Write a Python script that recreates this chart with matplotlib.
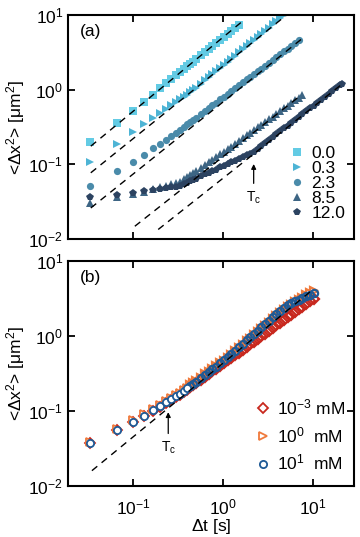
import numpy as np
import matplotlib
matplotlib.use("Agg")
import matplotlib.pyplot as plt

plt.rcParams['font.family'] = ['Liberation Sans', 'DejaVu Sans']
plt.rcParams['mathtext.fontset'] = 'custom'
plt.rcParams['mathtext.rm'] = 'Liberation Sans'
plt.rcParams['mathtext.it'] = 'Liberation Sans'

# lag times in frames (30 fps)
dt = 1.0 / 30.0
lags = [1, 2, 3, 4, 5, 6, 7, 8, 9, 10, 11, 12, 13, 14, 15, 17, 19, 21, 23, 25,
        28, 31, 34, 37, 41, 45, 50, 55, 60, 66, 73, 80, 88, 97, 107, 118, 130,
        143, 157, 173, 190, 209, 230, 253, 278, 306, 337, 371, 408, 449, 494,
        543, 597, 632]

# panel (a): MSD for different concentrations
labels_a = ['0.0', '0.3', '2.3', '8.5', '12.0']
markers_a = ['s', '>', 'o', '^', 'p']
colors_a = ['#63CBE4', '#4DB4D5', '#4A8BAA', '#3D6584', '#2C4361']
msd_00 = [0.20, 0.36, 0.52, 0.68, 0.86, 1.04, 1.21, 1.38, 1.55, 1.72, 1.89,
          2.05, 2.22, 2.38, 2.55, 2.88, 3.2, 3.52, 3.85, 4.17, 4.65, 5.12,
          5.6, 6.08, 6.7, 7.3]
msd_03 = [0.108, 0.19, 0.27, 0.345, 0.415, 0.485, 0.55, 0.615, 0.68, 0.745,
          0.80, 0.86, 0.93, 1.0, 1.06, 1.2, 1.34, 1.48, 1.62, 1.76, 1.97, 2.17,
          2.38, 2.6, 2.87, 3.15, 3.5, 3.85, 4.2, 4.62, 5.1, 5.6, 6.15, 6.8,
          7.5, 8.25, 9.1, 10.0, 11.0]
msd_23 = [0.052, 0.081, 0.107, 0.135, 0.163, 0.19, 0.214, 0.24, 0.265, 0.29,
          0.316, 0.342, 0.368, 0.394, 0.419, 0.47, 0.52, 0.57, 0.619, 0.667,
          0.739, 0.81, 0.884, 0.955, 1.05, 1.14, 1.26, 1.37, 1.48, 1.61, 1.77,
          1.92, 2.1, 2.29, 2.51, 2.74, 2.99, 3.27, 3.56, 3.88, 4.23, 4.6]
msd_85 = [0.030, 0.036, 0.040, 0.043, 0.046, 0.049, 0.052, 0.054, 0.056, 0.058,
          0.0628, 0.0675, 0.0721, 0.0767, 0.0812, 0.090, 0.0988, 0.107, 0.116,
          0.124, 0.136, 0.148, 0.161, 0.173, 0.189, 0.205, 0.225, 0.244, 0.263,
          0.286, 0.312, 0.338, 0.367, 0.40, 0.435, 0.474, 0.516, 0.56, 0.608,
          0.661, 0.717, 0.78, 0.847]
msd_120 = [0.036, 0.039, 0.041, 0.0435, 0.0455, 0.047, 0.0482, 0.0492, 0.050,
           0.051, 0.0538, 0.0565, 0.0591, 0.0616, 0.064, 0.0687, 0.0731,
           0.0773, 0.0813, 0.0852, 0.0908, 0.0961, 0.101, 0.106, 0.112, 0.118,
           0.126, 0.132, 0.139, 0.147, 0.161, 0.176, 0.192, 0.210, 0.230,
           0.252, 0.276, 0.302, 0.329, 0.36, 0.393, 0.429, 0.469, 0.513, 0.56,
           0.612, 0.669, 0.732, 0.80, 0.874, 0.956, 1.044, 1.14, 1.20]
series_a = [msd_00, msd_03, msd_23, msd_85, msd_120]

# dashed guides (t0, msd0, t1, msd1)
guides_a = [(0.034, 0.175, 1.6, 8.0),
            (0.034, 0.077, 5.1, 10.0),
            (0.034, 0.026, 7.5, 4.77),
            (0.105, 0.0148, 7.5, 0.857),
            (0.191, 0.0134, 20.8, 1.17)]

# panel (b): salt concentrations
labels_b = ['10$^{-3}$ mM', '10$^{0}$  mM', '10$^{1}$  mM']
markers_b = ['D', '>', 'o']
colors_b = ['#C8281E', '#F07A3C', '#1F5A96']
msd_b3 = [0.038, 0.056, 0.072, 0.086, 0.10, 0.114, 0.127, 0.14, 0.152, 0.164,
          0.178, 0.192, 0.206, 0.219, 0.233, 0.259, 0.286, 0.312, 0.337, 0.362,
          0.40, 0.436, 0.473, 0.509, 0.556, 0.602, 0.66, 0.717, 0.773, 0.839,
          0.915, 0.991, 1.076, 1.171, 1.274, 1.387, 1.508, 1.638, 1.776, 1.93,
          2.094, 2.273, 2.47, 2.68, 2.91, 3.16]
msd_b0 = [0.039, 0.058, 0.075, 0.09, 0.105, 0.12, 0.134, 0.148, 0.161, 0.174,
          0.189, 0.204, 0.219, 0.235, 0.249, 0.279, 0.308, 0.336, 0.364, 0.392,
          0.433, 0.468, 0.513, 0.56, 0.622, 0.685, 0.765, 0.845, 0.925, 1.02,
          1.13, 1.24, 1.37, 1.51, 1.66, 1.83, 2.01, 2.2, 2.41, 2.6, 2.8, 3.02,
          3.25, 3.5, 3.75, 4.0]
msd_b1 = [0.037, 0.055, 0.072, 0.087, 0.102, 0.117, 0.131, 0.145, 0.158, 0.171,
          0.186, 0.201, 0.216, 0.232, 0.246, 0.276, 0.305, 0.333, 0.362, 0.39,
          0.432, 0.473, 0.522, 0.572, 0.638, 0.705, 0.789, 0.874, 0.959, 1.062,
          1.183, 1.305, 1.445, 1.604, 1.77, 1.951, 2.15, 2.365, 2.596, 2.739,
          2.883, 3.038, 3.20, 3.375, 3.554, 3.747]
series_b = [msd_b3, msd_b0, msd_b1]
guide_b = (0.035, 0.016, 10.1, 4.2)

tc_a = (2.2, 0.11, 0.051)   # x, arrow tip, arrow tail
tc_b = (0.247, 0.105, 0.046)

fig = plt.figure(figsize=(3.6, 5.37), dpi=100)
ax1 = fig.add_axes([0.189, 0.555, 0.794, 0.417])
ax2 = fig.add_axes([0.189, 0.095, 0.794, 0.419])


def style(ax):
    ax.set_xscale('log')
    ax.set_yscale('log')
    ax.set_xlim(0.019, 28.6)
    ax.set_ylim(0.01, 10)
    ax.set_xticks([0.1, 1, 10])
    ax.set_yticks([0.01, 0.1, 1, 10])
    ax.minorticks_off()
    ax.tick_params(direction='in', which='major', length=5, width=1.3,
                   top=True, right=True, labelsize=12.5, pad=3.5)
    ax.tick_params(axis='x', pad=8)
    for s in ax.spines.values():
        s.set_linewidth(1.5)
    ax.set_ylabel(r'<$\Delta$x$^2$> [$\mu$m$^2$]', fontsize=12.5, labelpad=1)


lag_t = np.array(lags) * dt

# (a)
style(ax1)
ax1.tick_params(labelbottom=False)
for msd, lab, m, c in zip(series_a, labels_a, markers_a, colors_a):
    t = lag_t[:len(msd)]
    ms = 6.0 if m == 'p' else 5.2
    ax1.plot(t, msd, linestyle='none', marker=m, ms=ms, color=c, mew=0, label=lab)
for t0, m0, t1, m1 in guides_a:
    ax1.plot([t0, t1], [m0, m1], color='black', lw=1.0, ls=(0, (5, 4)), zorder=5)
ax1.annotate('', xy=(tc_a[0], tc_a[1]), xytext=(tc_a[0], tc_a[2]),
             arrowprops=dict(arrowstyle='-|>', color='black', lw=0.9,
                             mutation_scale=7))
ax1.text(tc_a[0], tc_a[2] * 0.9, r'T$_\mathregular{c}$', ha='center', va='top',
         fontsize=10)
ax1.text(0.04, 0.96, '(a)', transform=ax1.transAxes, ha='left', va='top',
         fontsize=12.5)
ax1.legend(loc='lower right', frameon=False, fontsize=12.5, handletextpad=0.2,
           labelspacing=0.0, borderaxespad=0.1, handlelength=1.2,
           bbox_to_anchor=(1.0, 0.04))

# (b) -- early lags drawn as white-filled rings, dense late lags as open rings
style(ax2)
n_sep = 12
for msd, lab, m, c in zip(series_b, labels_b, markers_b, colors_b):
    t = lag_t[:len(msd)]
    ms = 5.2 if m != 'D' else 4.6
    ax2.plot(t[n_sep:], msd[n_sep:], linestyle='none', marker=m, ms=ms,
             mfc='none', mec=c, mew=1.6)
    ax2.plot(t[:n_sep], msd[:n_sep], linestyle='none', marker=m, ms=ms,
             mfc='white', mec=c, mew=1.3, label=lab)
t0, m0, t1, m1 = guide_b
ax2.plot([t0, t1], [m0, m1], color='black', lw=1.0, ls=(0, (5, 4)), zorder=5)
ax2.annotate('', xy=(tc_b[0], tc_b[1]), xytext=(tc_b[0], tc_b[2]),
             arrowprops=dict(arrowstyle='-|>', color='black', lw=0.9,
                             mutation_scale=7))
ax2.text(tc_b[0], tc_b[2] * 0.9, r'T$_\mathregular{c}$', ha='center', va='top',
         fontsize=10)
ax2.text(0.04, 0.96, '(b)', transform=ax2.transAxes, ha='left', va='top',
         fontsize=12.5)
ax2.legend(loc='lower right', frameon=False, fontsize=12.5, handletextpad=0.3,
           labelspacing=0.45, borderaxespad=0.1, handlelength=1.0,
           bbox_to_anchor=(1.0, 0.02))
ax2.set_xlabel(r'$\Delta$t [s]', fontsize=12.5, labelpad=0)

fig.savefig('out.png', dpi=100)
